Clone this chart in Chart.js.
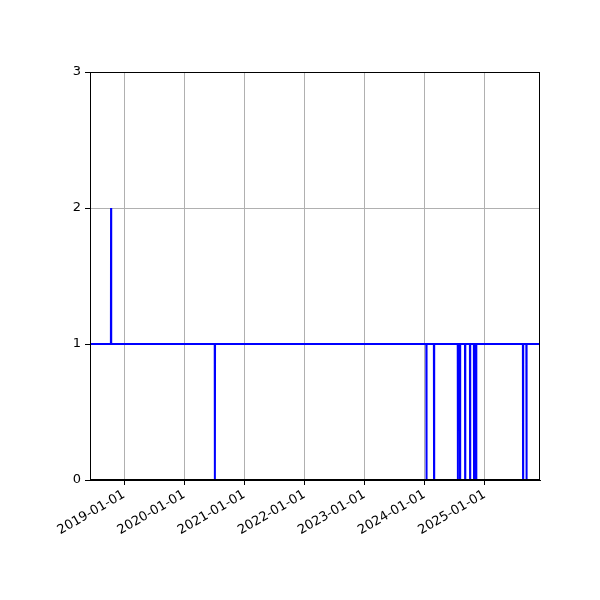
<!DOCTYPE html>
<html>
<head>
<meta charset="utf-8">
<script src="https://cdn.jsdelivr.net/npm/chart.js@4"></script>
<style>
  html, body { margin: 0; padding: 0; background: #fff; }
  #wrap { width: 600px; height: 600px; }
</style>
</head>
<body>
<div id="wrap"><canvas id="countChart" width="600" height="600"></canvas></div>
<script>
// Daily count: mostly 1, with a single spike to 2 and a handful of one-day drops to 0
const dates = [
    '2018-06-08',
    '2018-10-13', '2018-10-14', '2018-10-15',
    '2020-07-05', '2020-07-06', '2020-07-07',
    '2024-01-12', '2024-01-13', '2024-01-14',
    '2024-02-27', '2024-02-28', '2024-02-29',
    '2024-07-21', '2024-07-22', '2024-07-23',
    '2024-08-03', '2024-08-04', '2024-08-05',
    '2024-09-03', '2024-09-04', '2024-09-05',
    '2024-10-03', '2024-10-04', '2024-10-05',
    '2024-10-27', '2024-10-28', '2024-10-29',
    '2024-11-09', '2024-11-10', '2024-11-11',
    '2025-08-21', '2025-08-22', '2025-08-23',
    '2025-09-11', '2025-09-12', '2025-09-13',
    '2025-12-03'
];
const counts = [
    1,
    1, 2, 1,
    1, 0, 1,
    1, 0, 1,
    1, 0, 1,
    1, 0, 1,
    1, 0, 1,
    1, 0, 1,
    1, 0, 1,
    1, 0, 1,
    1, 0, 1,
    1, 0, 1,
    1, 0, 1,
    1
];
const yearTicks = ['2019-01-01', '2020-01-01', '2021-01-01', '2022-01-01', '2023-01-01', '2024-01-01', '2025-01-01'];
const yTicks = [0, 1, 2, 3];

function toMs(s) {
    const [y, m, d] = s.split('-').map(Number);
    return Date.UTC(y, m - 1, d);
}
function fmtDate(ms) {
    const d = new Date(ms);
    const p = n => String(n).padStart(2, '0');
    return `${d.getUTCFullYear()}-${p(d.getUTCMonth() + 1)}-${p(d.getUTCDate())}`;
}

const points = dates.map((d, i) => ({ x: toMs(d), y: counts[i] }));

// matplotlib-like frame around the plot area
const frame = {
    id: 'frame',
    afterDraw(chart) {
        const { ctx, chartArea: a } = chart;
        ctx.save();
        ctx.strokeStyle = '#000';
        ctx.lineWidth = 1;
        ctx.strokeRect(a.left + 0.5, a.top + 0.5, a.right - a.left - 1, a.bottom - a.top - 1);
        ctx.restore();
    }
};

const font = { family: "'DejaVu Sans', sans-serif", size: 13 };

new Chart(document.getElementById('countChart'), {
    type: 'line',
    data: {
        datasets: [{
            data: points,
            borderColor: '#0000ff',
            borderWidth: 2,
            pointRadius: 0,
            tension: 0,
            fill: false
        }]
    },
    options: {
        responsive: false,
        animation: false,
        layout: { padding: { top: 72, right: 60, left: 0, bottom: 0 } },
        plugins: { legend: { display: false }, tooltip: { enabled: false } },
        scales: {
            x: {
                type: 'linear',
                min: toMs(dates[0]),
                max: toMs(dates[dates.length - 1]),
                afterBuildTicks: scale => { scale.ticks = yearTicks.map(t => ({ value: toMs(t) })); },
                afterFit: scale => { scale.height = 120; },
                ticks: {
                    autoSkip: false,
                    minRotation: 30,
                    maxRotation: 30,
                    color: '#000',
                    font: font,
                    padding: 2,
                    callback: v => fmtDate(v)
                },
                grid: { color: '#b0b0b0', lineWidth: 1, tickColor: '#000', tickLength: 5 },
                border: { color: '#000', width: 1 }
            },
            y: {
                min: 0,
                max: 3,
                afterBuildTicks: scale => { scale.ticks = yTicks.map(v => ({ value: v })); },
                afterFit: scale => { scale.width = 90; },
                ticks: { color: '#000', font: font, padding: 4, callback: v => String(v) },
                grid: { color: '#b0b0b0', lineWidth: 1, tickColor: '#000', tickLength: 5 },
                border: { color: '#000', width: 1 }
            }
        }
    },
    plugins: [frame]
});
</script>
</body>
</html>
